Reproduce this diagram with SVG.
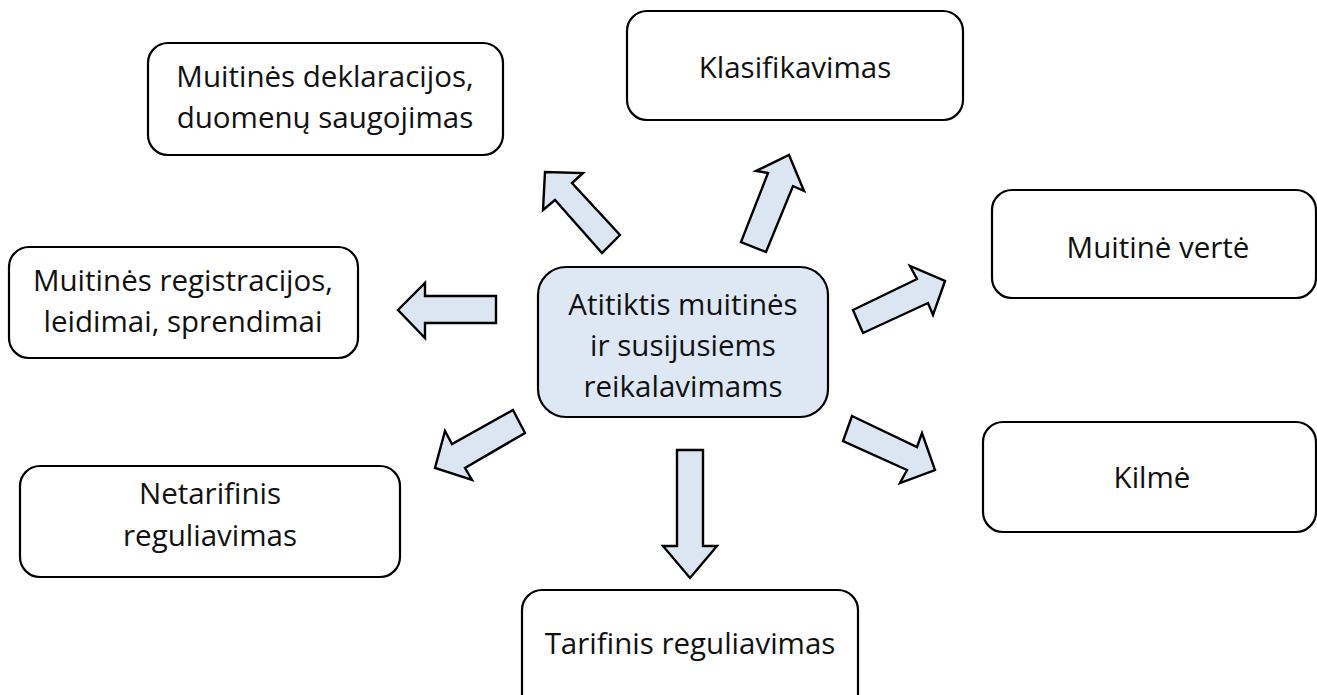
<svg xmlns="http://www.w3.org/2000/svg" width="1317" height="695" viewBox="0 0 1317 695">
<style>
.box{fill:#ffffff;stroke:#000000;stroke-width:2.2}
.center{fill:#dee8f5;stroke:#000000;stroke-width:2.2}
.arr{fill:#dce6f3;stroke:#000000;stroke-width:2.4;stroke-linejoin:miter}
text{font-family:"Open Sans","Noto Sans",sans-serif;font-size:29.5px;fill:#111111;text-anchor:middle}
</style>
<rect width="1317" height="695" fill="#ffffff"/>
<g id="connectors">
<polygon class="arr" points="496,296 425,296 425,283 398,310 425,338 425,323 496,323"/>
<polygon class="arr" points="677,450 703,450 703,546 717,546 690,578 663,546 677,546"/>
<polygon class="arr" points="545,172 583,173 572,183 620,235 602,253 555,200 543,210"/>
<polygon class="arr" points="789,155 804,191 793,186 766,252 741,242 768,173 756,171"/>
<polygon class="arr" points="945,281 933,315 928,303 863,333 853,310 917,279 910,266"/>
<polygon class="arr" points="852,416 917,447 922,433 935,470 900,483 907,470 843,441"/>
<polygon class="arr" points="513,410 525,433 465,468 472,480 435,468 445,431 452,444"/>
</g>
<g id="center">
<rect class="center" x="538" y="267" width="290" height="150" rx="28"/>
<text x="683" y="315">Atitiktis muitinės</text>
<text x="683" y="356">ir susijusiems</text>
<text x="683" y="397">reikalavimams</text>
</g>
<g id="deklaracijos">
<rect class="box" x="148" y="43" width="355" height="112" rx="20"/>
<text x="325" y="87">Muitinės deklaracijos,</text>
<text x="325" y="128">duomenų saugojimas</text>
</g>
<g id="klasifikavimas">
<rect class="box" x="627" y="11" width="336" height="109" rx="20"/>
<text x="795" y="78">Klasifikavimas</text>
</g>
<g id="verte">
<rect class="box" x="992" y="190" width="324" height="108" rx="20"/>
<text x="1158" y="258">Muitinė vertė</text>
</g>
<g id="registracijos">
<rect class="box" x="9" y="247" width="349" height="111" rx="20"/>
<text x="183" y="291">Muitinės registracijos,</text>
<text x="183" y="332">leidimai, sprendimai</text>
</g>
<g id="kilme">
<rect class="box" x="983" y="422" width="333" height="110" rx="20"/>
<text x="1152" y="488">Kilmė</text>
</g>
<g id="netarifinis">
<rect class="box" x="20" y="466" width="380" height="111" rx="20"/>
<text x="210" y="504">Netarifinis</text>
<text x="210" y="546">reguliavimas</text>
</g>
<g id="tarifinis">
<rect class="box" x="522" y="590" width="336" height="125" rx="20"/>
<text x="690" y="654">Tarifinis reguliavimas</text>
</g>
</svg>
